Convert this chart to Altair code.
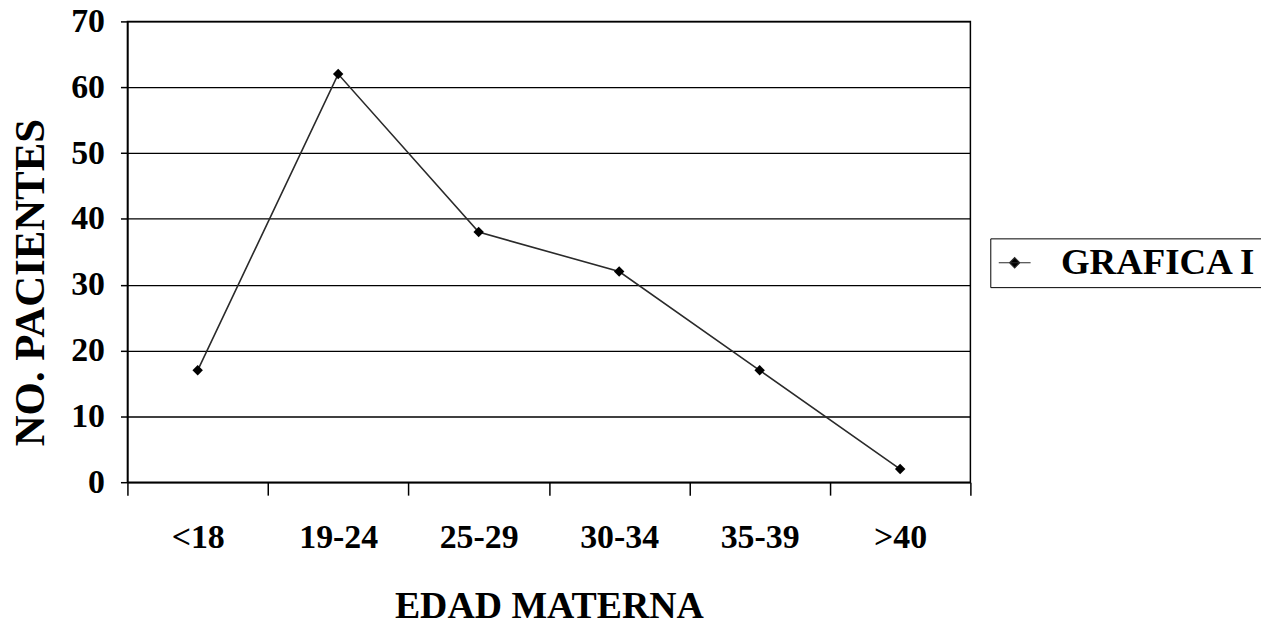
import altair as alt
import pandas as pd

categories = ["<18", "19-24", "25-29", "30-34", "35-39", ">40"]
values = [17, 62, 38, 32, 17, 2]
series = ["GRAFICA I"] * len(categories)

df = pd.DataFrame({"edad": categories, "pacientes": values, "serie": series})

FONT = "Liberation Serif, Times New Roman, DejaVu Serif, serif"

x = alt.X(
    "edad:N",
    sort=categories,
    scale=alt.Scale(paddingInner=0, paddingOuter=0),
    axis=alt.Axis(
        title="EDAD MATERNA",
        labelAngle=0,
        tickBand="extent",
        tickSize=13,
        labelPadding=26,
        titlePadding=33,
        domainColor="black",
        tickColor="black",
        tickWidth=1.5,
        domainWidth=1.5,
        grid=False,
    ),
)
y = alt.Y(
    "pacientes:Q",
    scale=alt.Scale(domain=[0, 70]),
    axis=alt.Axis(
        title="NO. PACIENTES",
        values=[0, 10, 20, 30, 40, 50, 60, 70],
        tickSize=7,
        labelPadding=16,
        titleFontSize=43,
        titleX=-97,
        titleY=262,
        titleAngle=270,
        titleAlign="center",
        titleBaseline="middle",
        domainColor="black",
        tickColor="black",
        tickWidth=1.5,
        domainWidth=1.5,
        gridColor="black",
        gridWidth=1.3,
        gridOpacity=1,
    ),
)

color = alt.Color(
    "serie:N",
    scale=alt.Scale(range=["#2a2a2a"]),
    legend=alt.Legend(
        title=None,
        orient="none",
        legendX=867,
        legendY=218,
        strokeColor="black",
        padding=6,
        symbolType="M-1,0H1M0,-0.32L0.32,0L0,0.32L-0.32,0Z",
        symbolSize=1024,
        symbolStrokeWidth=1.2,
        symbolFillColor="black",
        symbolStrokeColor="#333",
        labelFont=FONT,
        labelFontWeight="bold",
        labelFontSize=37,
        labelColor="black",
        labelOffset=28,
        labelLimit=400,
    ),
)

line = alt.Chart(df).mark_line(strokeWidth=1.6).encode(x=x, y=y, color=color)
points = alt.Chart(df).mark_point(
    shape="diamond", filled=True, size=110, color="black", opacity=1
).encode(x=x, y=y)

chart = (
    alt.layer(line, points)
    .properties(
        width=847,
        height=463,
        autosize=alt.AutoSizeParams(type="none"),
        padding={"left": 120, "top": 12, "right": 292, "bottom": 140},
        background="white",
    )
    .configure_view(stroke="black", strokeWidth=1.5)
    .configure_axis(
        labelFont=FONT,
        labelFontWeight="bold",
        labelFontSize=34,
        labelColor="black",
        titleFont=FONT,
        titleFontWeight="bold",
        titleFontSize=38,
        titleColor="black",
    )
)

chart.save("out.html", embed_options={"renderer": "svg", "actions": False})
